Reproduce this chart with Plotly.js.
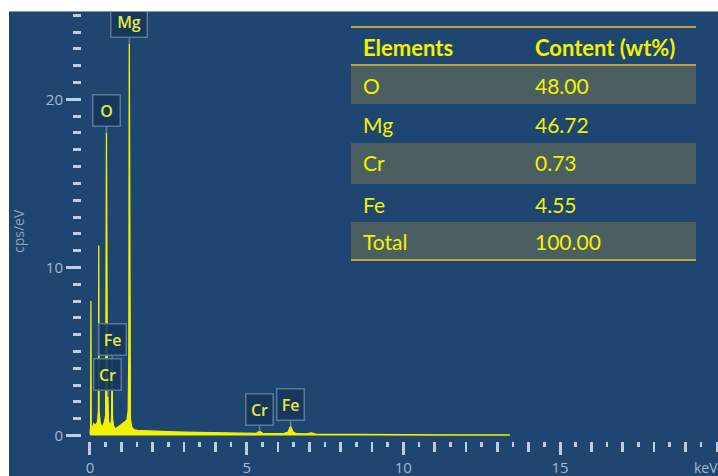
<!DOCTYPE html>
<html>
<head>
<meta charset="utf-8">
<script src="https://cdn.plot.ly/plotly-3.0.1.min.js"></script>
<style>
html,body{margin:0;padding:0;background:#ffffff;width:718px;height:476px;overflow:hidden;}
#chart{position:absolute;left:9px;top:11px;width:709px;height:465px;border-top:1px solid #8a96a4;box-sizing:border-box;}
</style>
</head>
<body>
<div id="chart"></div>
<script>
// ---- data ----
const energyKeV = [0.00, 0.02, 0.03, 0.04, 0.07, 0.12, 0.18, 0.24, 0.27, 0.28, 0.29, 0.33, 0.40, 0.46, 0.50, 0.525, 0.55, 0.56, 0.573, 0.59, 0.63, 0.68, 0.69, 0.705, 0.72, 0.76, 0.82, 0.90, 0.98, 1.05, 1.12, 1.18, 1.22, 1.24, 1.254, 1.27, 1.29, 1.33, 1.40, 1.50, 1.70, 2.00, 2.50, 3.00, 3.50, 4.00, 4.50, 5.00, 5.30, 5.41, 5.52, 5.80, 6.20, 6.32, 6.40, 6.48, 6.60, 6.90, 7.06, 7.20, 7.60, 8.00, 9.00, 10.00, 11.00, 12.00, 13.00, 13.40];
const countsCpsPerEV = [0.1, 0.5, 8.0, 0.6, 0.4, 0.7, 0.6, 0.8, 1.5, 11.3, 1.4, 0.7, 0.5, 0.8, 1.2, 18.0, 1.3, 1.0, 2.3, 0.9, 0.6, 0.8, 1.2, 4.4, 1.0, 0.5, 0.4, 0.5, 0.6, 0.7, 0.8, 0.9, 1.5, 5.0, 23.3, 4.0, 1.0, 0.5, 0.35, 0.3, 0.28, 0.25, 0.22, 0.2, 0.18, 0.16, 0.14, 0.12, 0.12, 0.25, 0.11, 0.1, 0.12, 0.2, 0.55, 0.2, 0.1, 0.09, 0.15, 0.08, 0.07, 0.06, 0.05, 0.05, 0.04, 0.04, 0.04, 0.03];

const peakLabels = ['Mg', 'O', 'Fe', 'Cr', 'Cr', 'Fe'];
const peakEnergy = [1.254, 0.525, 0.705, 0.573, 5.41, 6.40];
const peakCounts = [23.3, 18.0, 4.4, 2.3, 0.25, 0.55];

const tableHeader = ['Elements', 'Content (wt%)'];
const tableElements = ['O', 'Mg', 'Cr', 'Fe', 'Total'];
const tableContent = ['48.00', '46.72', '0.73', '4.55', '100.00'];

const xTickVals = [0, 5, 10, 15];
const xTickText = ['0', '5', '10', '15'];
const yTickVals = [0, 10, 20];
const yTickText = ['0', '10', '20'];

// ---- geometry helpers (page px -> paper) ----
const PL = 82, PR = 718, PT = 11, PB = 440;
const px = v => (v - PL) / (PR - PL);
const py = v => (PB - v) / (PB - PT);

const BG = '#1f4670';
const TICK = '#bccde2';
const TICKLBL = '#a5b8cf';
const YEL = '#f2f200';
const LBLYEL = '#e4ea3a';
const GOLD = '#b9a24c';
const SHADE = '#4f6260';

const traces = [
  {
    x: energyKeV, y: countsCpsPerEV, type: 'scatter', mode: 'lines',
    fill: 'tozeroy', fillcolor: YEL,
    line: {color: YEL, width: 1.3, shape: 'linear'},
    hoverinfo: 'skip', xaxis: 'x', yaxis: 'y'
  },
  {
    x: [0, 20], y: [null, null], type: 'scatter', mode: 'lines',
    xaxis: 'x2', yaxis: 'y', showlegend: false, hoverinfo: 'skip'
  }
];

const shapes = [];
const annotations = [];

// table shading rows
const rowBands = [[65, 103], [142, 183], [221, 259]];
rowBands.forEach(b => shapes.push({
  type: 'rect', xref: 'paper', yref: 'paper', layer: 'above',
  x0: px(351), x1: px(696), y0: py(b[1]), y1: py(b[0]),
  fillcolor: SHADE, line: {width: 0}, opacity: 0.92
}));
[26, 64, 259].forEach(yy => shapes.push({
  type: 'line', xref: 'paper', yref: 'paper', layer: 'above',
  x0: px(351), x1: px(696), y0: py(yy), y1: py(yy),
  line: {color: GOLD, width: 2}
}));

// table text
const headerY = 46;
const rowY = [84, 123, 162, 203, 240];
const colX = [361, 533];
tableHeader.forEach((t, i) => annotations.push({
  xref: 'paper', yref: 'paper', x: px(colX[i]), y: py(headerY),
  xanchor: 'left', yanchor: 'middle', showarrow: false, text: t,
  font: {family: 'Lato, sans-serif', size: 22, color: YEL, weight: 700}
}));
tableElements.forEach((t, i) => {
  annotations.push({
    xref: 'paper', yref: 'paper', x: px(colX[0]), y: py(rowY[i]),
    xanchor: 'left', yanchor: 'middle', showarrow: false, text: t,
    font: {family: 'Lato, sans-serif', size: 21, color: YEL}
  });
  annotations.push({
    xref: 'paper', yref: 'paper', x: px(colX[1]), y: py(rowY[i]),
    xanchor: 'left', yanchor: 'middle', showarrow: false, text: tableContent[i],
    font: {family: 'Lato, sans-serif', size: 21, color: YEL}
  });
});

// peak labels
peakLabels.forEach((t, i) => {
  const w = t === 'Mg' ? 31 : 22;
  annotations.push({
    xref: 'x', yref: 'y', x: peakEnergy[i], y: peakCounts[i],
    text: t, showarrow: true, arrowhead: 0, arrowwidth: 1.5, arrowcolor: '#60809f',
    ax: 0, ay: -22, standoff: 0,
    width: w, height: 26, borderpad: 2, borderwidth: 1.5,
    bordercolor: '#5a7898', bgcolor: 'rgba(22,54,92,0.9)',
    font: {family: 'Open Sans, sans-serif', size: 16, color: LBLYEL, weight: 600}
  });
});

// axis titles
annotations.push({
  xref: 'paper', yref: 'paper', x: px(19), y: py(230), textangle: -90,
  showarrow: false, text: 'cps/eV', xanchor: 'center', yanchor: 'middle',
  font: {family: 'Open Sans, sans-serif', size: 14, color: '#8ea2bb'}
});
annotations.push({
  xref: 'paper', yref: 'paper', x: px(692), y: py(466),
  showarrow: false, text: 'keV', xanchor: 'left', yanchor: 'middle',
  font: {family: 'Open Sans, sans-serif', size: 14, color: TICKLBL}
});

const layout = {
  width: 709, height: 465,
  margin: {l: 73, r: 0, t: 0, b: 36, pad: 0},
  paper_bgcolor: BG, plot_bgcolor: BG,
  showlegend: false,
  xaxis: {
    range: [-0.255, 20.04], showgrid: false, zeroline: false, showline: false,
    tickmode: 'array', tickvals: xTickVals, ticktext: xTickText,
    ticks: 'outside', ticklen: 13, tickwidth: 3, tickcolor: TICK,
    tickfont: {family: 'Open Sans, sans-serif', size: 15, color: TICKLBL},
    minor: {dtick: 0.5, tick0: 0, ticks: 'outside', ticklen: 5, tickwidth: 2.5, tickcolor: TICK, showgrid: false},
    fixedrange: true
  },
  xaxis2: {
    overlaying: 'x', anchor: 'y', side: 'bottom', range: [-0.255, 20.04],
    showgrid: false, zeroline: false, showline: false, showticklabels: false,
    tickmode: 'linear', tick0: 0, dtick: 1,
    ticks: 'outside', ticklen: 10, tickwidth: 2.5, tickcolor: TICK
  },
  yaxis: {
    range: [-0.33, 25.2], showgrid: false, zeroline: false, showline: false,
    tickmode: 'array', tickvals: yTickVals, ticktext: yTickText,
    ticks: 'outside', ticklen: 15, tickwidth: 3, tickcolor: TICK,
    tickfont: {family: 'Open Sans, sans-serif', size: 15, color: TICKLBL},
    minor: {dtick: 1, tick0: 0, ticks: 'outside', ticklen: 8, tickwidth: 3, tickcolor: TICK, showgrid: false},
    fixedrange: true
  },
  shapes: shapes,
  annotations: annotations
};

Plotly.newPlot('chart', traces, layout, {displayModeBar: false, staticPlot: true});
</script>
</body>
</html>
